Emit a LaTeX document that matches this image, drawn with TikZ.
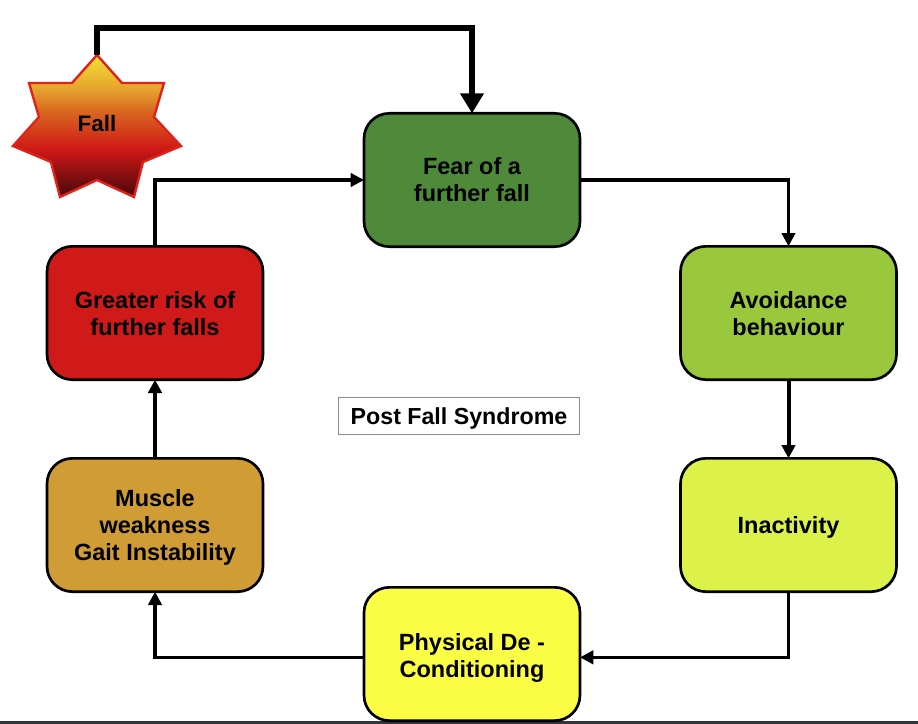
\documentclass[tikz,border=0pt]{standalone}
\usepackage{fontspec}
\setmainfont{Liberation Sans}
\usetikzlibrary{arrows.meta,calc}
\definecolor{cfear}{HTML}{4F8A3A}
\definecolor{cavoid}{HTML}{99C83C}
\definecolor{cinact}{HTML}{DCF24A}
\definecolor{cphys}{HTML}{FBFD45}
\definecolor{cmuscle}{HTML}{CF9C35}
\definecolor{crisk}{HTML}{D01A1A}
\definecolor{bar}{HTML}{333438}
\definecolor{sa}{HTML}{F2E232}
\definecolor{sb}{HTML}{E6A22E}
\definecolor{sc}{HTML}{D8661F}
\definecolor{sd}{HTML}{D01816}
\definecolor{se}{HTML}{46070A}
\definecolor{sline}{HTML}{E0221C}
\pgfdeclareverticalshading{fallshade}{100bp}{
  color(0bp)=(se);
  color(25bp)=(se);
  color(42bp)=(sd);
  color(55bp)=(sc);
  color(63bp)=(sb);
  color(75bp)=(sa);
  color(100bp)=(sa)}
\newcommand{\ctext}[2]{\raisebox{\dimexpr-6.4pt-#1\relax}[0pt][0pt]{\begin{tabular}{@{}c@{}}#2\end{tabular}}}
\tikzset{
  x=0.75pt,y=-0.75pt,
  stepbox/.style={draw=black,line width=2pt,rounded corners=19pt,minimum width=162pt,minimum height=100pt,inner sep=0pt,
    font=\fontsize{17.6}{20.25}\selectfont\bfseries,text=black},
  link/.style={draw=black,line width=2.4pt,line join=miter,shorten >=-1pt,-{Triangle[length=10pt,width=10pt]}},
  thicklink/.style={link,line width=3pt},
  biglink/.style={draw=black,line width=5pt,line join=miter,shorten >=-1pt,-{Triangle[length=15pt,width=17pt]}},
  labelbox/.style={draw=black!45,line width=0.8pt,fill=white,minimum width=181pt,minimum height=28pt,inner sep=0pt,
    font=\fontsize{17.4}{20.25}\selectfont\bfseries,text=black},
}
\begin{document}
\begin{tikzpicture}
\useasboundingbox (0,0) rectangle (918,724);
\fill[white] (0,0) rectangle (918,724);
\fill[bar] (0,721) rectangle (918,724);
% star
\coordinate (startop) at (97,55);
\begin{scope}
\clip (97,55)--(122,83)--(164,83)--(154,117)--(181,146)--(143,162)--(134,197)--(97,180)--(60,197)--(51,162)--(13,146)--(39,117)--(29,83)--(72,83)--cycle;
\shade[shading=fallshade] (0,55) rectangle (200,197);
\end{scope}
\draw[draw=sline,line width=1.8pt,line join=miter] (97,55)--(122,83)--(164,83)--(154,117)--(181,146)--(143,162)--(134,197)--(97,180)--(60,197)--(51,162)--(13,146)--(39,117)--(29,83)--(72,83)--cycle;
\node[font=\fontsize{16.8}{18}\selectfont\bfseries,text=black] (fall) at (97,123) {Fall};
% boxes
\node[stepbox,fill=cfear] (fear) at (472,180) {\ctext{0pt}{Fear of a\\further fall}};
\node[stepbox,fill=cavoid] (avoid) at (788.5,313) {\ctext{0.4pt}{Avoidance\\behaviour}};
\node[stepbox,fill=cinact] (inact) at (788.5,525) {\ctext{0pt}{Inactivity}};
\node[stepbox,fill=cphys] (phys) at (472,654) {\ctext{1.1pt}{Physical De -\\Conditioning}};
\node[stepbox,fill=cmuscle] (muscle) at (155,525) {\ctext{0pt}{Muscle\\weakness\\Gait Instability}};
\node[stepbox,fill=crisk] (risk) at (155,313) {\ctext{0.4pt}{Greater risk of\\further falls}};
\node[labelbox] (title) at (459,416) {\ctext{0pt}{Post Fall Syndrome}};
% connectors
\coordinate (topleft) at (97,28);
\draw[biglink] (startop) -- (topleft) -| (fear.north);
\draw[link] (fear.east) -| (avoid.north);
\draw[thicklink] (avoid.south) -- (inact.north);
\draw[link] (inact.south) |- ([yshift=-2.5pt]phys.east);
\draw[link] ([yshift=-2.5pt]phys.west) -| (muscle.south);
\draw[thicklink] (muscle.north) -- (risk.south);
\draw[link] (risk.north) |- (fear.west);
\end{tikzpicture}
\end{document}
